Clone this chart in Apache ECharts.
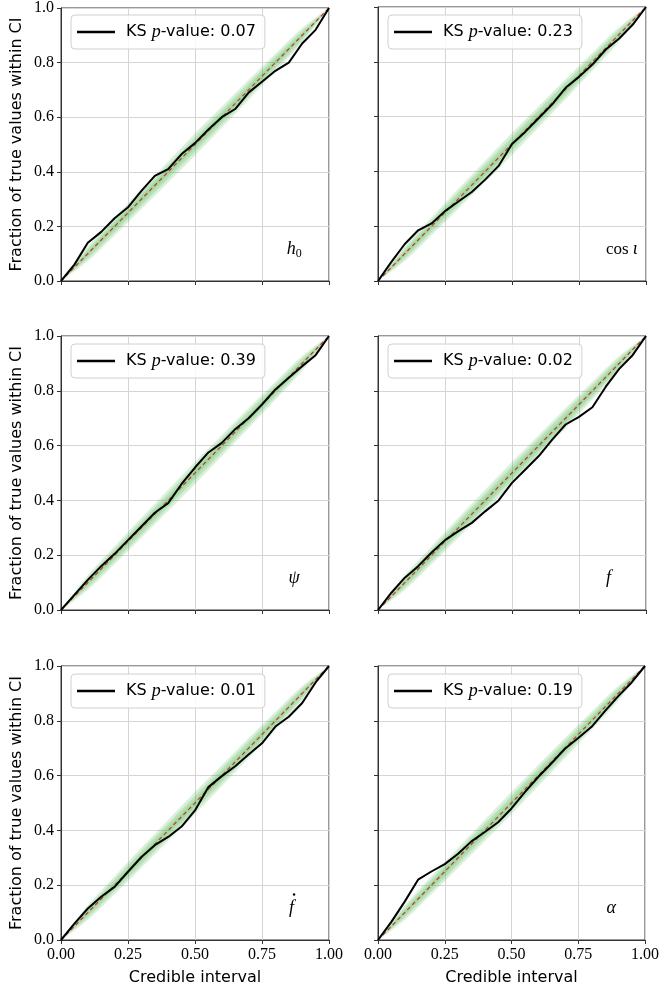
<!DOCTYPE html>
<html>
<head>
<meta charset="utf-8">
<script src="https://cdn.jsdelivr.net/npm/echarts@6/dist/echarts.min.js"></script>
<style>
  html, body { margin: 0; padding: 0; background: #fff; }
  #chart { width: 662px; height: 988px; }
</style>
</head>
<body>
<div id="chart"></div>
<script>
// Credible-interval grid shared by all six P–P curves
const credible = [0, 0.05, 0.10, 0.15, 0.20, 0.25, 0.30, 0.35, 0.40, 0.45, 0.50,
                  0.55, 0.60, 0.65, 0.70, 0.75, 0.80, 0.85, 0.90, 0.95, 1.00];

// Fraction of true values within each credible interval, per parameter
const fracH0    = [0, 0.060, 0.140, 0.180, 0.230, 0.270, 0.330, 0.385, 0.410, 0.465, 0.505,
                   0.555, 0.600, 0.630, 0.690, 0.730, 0.770, 0.800, 0.870, 0.920, 1.000];
const fracCosI  = [0, 0.070, 0.135, 0.185, 0.210, 0.255, 0.290, 0.325, 0.370, 0.420, 0.500,
                   0.545, 0.595, 0.645, 0.705, 0.745, 0.790, 0.845, 0.885, 0.935, 1.000];
const fracPsi   = [0, 0.055, 0.110, 0.160, 0.205, 0.255, 0.305, 0.355, 0.390, 0.460, 0.520,
                   0.575, 0.610, 0.660, 0.700, 0.750, 0.805, 0.848, 0.890, 0.930, 1.000];
const fracF     = [0, 0.063, 0.118, 0.160, 0.210, 0.255, 0.288, 0.318, 0.360, 0.400, 0.464,
                   0.513, 0.562, 0.622, 0.677, 0.705, 0.740, 0.815, 0.880, 0.930, 1.000];
const fracFdot  = [0, 0.060, 0.115, 0.158, 0.194, 0.249, 0.303, 0.346, 0.376, 0.414, 0.473,
                   0.558, 0.598, 0.634, 0.677, 0.718, 0.779, 0.815, 0.865, 0.940, 1.000];
const fracAlpha = [0, 0.066, 0.140, 0.220, 0.250, 0.277, 0.315, 0.360, 0.394, 0.430, 0.480,
                   0.540, 0.595, 0.645, 0.698, 0.737, 0.778, 0.835, 0.890, 0.940, 1.000];

// Kolmogorov–Smirnov p-values shown in the legends
const ksPValues = [0.07, 0.23, 0.39, 0.02, 0.01, 0.19];

// Parameter symbols (rich-text markup); the time derivative gets an overdot
const paramLabels = ['{i|h}{s|0}', '{r|cos }{i|ι}', '{i|ψ}', '{i|f}', '{i|f}', '{i|α}'];
const paramDotted = [false, false, false, false, true, false];

// Expected spread of P–P curves around the diagonal (half-widths of nested bands)
const bandX     = [0, 0.1, 0.2, 0.3, 0.4, 0.5, 0.6, 0.7, 0.8, 0.9, 1.0];
const bandOuter = [0, 0.026, 0.032, 0.036, 0.038, 0.040, 0.038, 0.036, 0.032, 0.026, 0];
const bandMid   = [0, 0.017, 0.021, 0.024, 0.025, 0.026, 0.025, 0.024, 0.021, 0.017, 0];
const bandInner = [0, 0.008, 0.010, 0.012, 0.013, 0.013, 0.013, 0.012, 0.010, 0.008, 0];

// Reference line y = x
const diagonal = [0, 1];

const xTicks = [0, 0.25, 0.5, 0.75, 1];
const yTicks = [0, 0.2, 0.4, 0.6, 0.8, 1];

const curves = [fracH0, fracCosI, fracPsi, fracF, fracFdot, fracAlpha];
const bands = [bandOuter, bandMid, bandInner];

// Layout of the 3x2 panel grid (pixels)
const colLeft = [61, 378];
const rowTop = [7, 336, 666];
const panelW = 268, panelH = 274;
const labelPos = [0.87, 0.91, 0.87, 0.86, 0.86, 0.87];

const sans = 'DejaVu Sans';
const serif = 'Liberation Serif';

const grids = [], xAxes = [], yAxes = [], series = [], legends = [], graphics = [];

curves.forEach((vals, k) => {
  const r = Math.floor(k / 2), c = k % 2;
  const left = colLeft[c], top = rowTop[r];
  grids.push({ left: left, top: top, width: panelW, height: panelH, show: true,
               borderColor: '#333', borderWidth: 1, backgroundColor: '#fff' });

  const bottomRow = r === 2, leftCol = c === 0;
  xAxes.push({
    gridIndex: k, type: 'value', min: xTicks[0], max: xTicks[xTicks.length - 1],
    interval: xTicks[1] - xTicks[0],
    axisLine: { show: true, onZero: false, lineStyle: { color: '#333', width: 1 } },
    axisTick: { show: true, length: 4, lineStyle: { color: '#333' } },
    axisLabel: { show: bottomRow, formatter: v => v.toFixed(2), color: '#000',
                 fontFamily: serif, fontSize: 16, margin: 7 },
    splitLine: { show: true, lineStyle: { color: '#d5d5d5', width: 1 } },
    name: bottomRow ? 'Credible interval' : '', nameLocation: 'middle', nameGap: 30,
    nameTextStyle: { fontFamily: sans, fontSize: 16, color: '#000' }
  });
  yAxes.push({
    gridIndex: k, type: 'value', min: yTicks[0], max: yTicks[yTicks.length - 1],
    interval: yTicks[1] - yTicks[0],
    axisLine: { show: true, onZero: false, lineStyle: { color: '#333', width: 1 } },
    axisTick: { show: true, length: 4, lineStyle: { color: '#333' } },
    axisLabel: { show: leftCol, formatter: v => v.toFixed(1), color: '#000',
                 fontFamily: serif, fontSize: 16, margin: 7 },
    splitLine: { show: true, lineStyle: { color: '#d5d5d5', width: 1 } },
    name: leftCol ? 'Fraction of true values within CI' : '', nameLocation: 'middle', nameGap: 36,
    nameTextStyle: { fontFamily: sans, fontSize: 16, color: '#000' }
  });

  // soft green spread band, darkest along the diagonal
  series.push({
    type: 'custom', xAxisIndex: k, yAxisIndex: k, silent: true, clip: true, z: 1,
    data: bands.map((b, i) => [i]),
    renderItem: (params, api) => {
      const w = bands[api.value(0)];
      const upper = bandX.map((x, i) => api.coord([x, Math.min(1, x + w[i])]));
      const lower = bandX.map((x, i) => api.coord([x, Math.max(0, x - w[i])])).reverse();
      return {
        type: 'polygon',
        shape: { points: upper.concat(lower), smooth: 0.3 },
        style: { fill: 'rgba(70,175,70,0.17)', shadowBlur: 4, shadowColor: 'rgba(70,175,70,0.25)' }
      };
    }
  });

  // red dashed y = x reference
  series.push({
    type: 'line', xAxisIndex: k, yAxisIndex: k, silent: true, z: 3,
    data: diagonal.map(v => [v, v]), symbol: 'none',
    lineStyle: { color: '#c0392b', width: 1.2, type: [4, 3] }
  });

  // observed P–P curve
  const name = 'KS p-value: ' + ksPValues[k].toFixed(2);
  series.push({
    name: name, type: 'line', xAxisIndex: k, yAxisIndex: k, z: 4,
    data: credible.map((x, j) => [x, vals[j]]), symbol: 'none',
    lineStyle: { color: '#000', width: 2 }, itemStyle: { color: '#000' }
  });

  legends.push({
    data: [{ name: name, icon: 'rect' }], left: left + 10, top: top + 8, orient: 'horizontal',
    itemWidth: 38, itemHeight: 2.4, selectedMode: false,
    backgroundColor: 'rgba(255,255,255,0.85)', borderColor: '#d0d0d0', borderWidth: 1,
    borderRadius: 4, padding: [8, 9, 8, 6],
    formatter: n => n.replace('KS p-value', 'KS {i|p}-value'),
    textStyle: { fontFamily: sans, fontSize: 16, color: '#000', padding: [0, 0, 0, 6],
      rich: { i: { fontFamily: serif, fontStyle: 'italic', fontSize: 18, color: '#000' } } }
  });

  // parameter symbol in the lower-right corner of each panel
  const lx = left + panelW * labelPos[k], ly = top + panelH * (1 - 0.115);
  const children = [{
    type: 'text', x: 0, y: 0,
    style: {
      text: paramLabels[k], align: 'center', verticalAlign: 'middle',
      fontFamily: serif, fontSize: 17, fill: '#000',
      rich: {
        i: { fontFamily: serif, fontStyle: 'italic', fontSize: 18 },
        s: { fontFamily: serif, fontSize: 12, verticalAlign: 'bottom', padding: [8, 0, 0, 0] },
        r: { fontFamily: serif, fontSize: 17 }
      }
    }
  }];
  if (paramDotted[k]) {
    children.push({ type: 'circle', shape: { cx: 2.6, cy: -14, r: 1.2 }, style: { fill: '#000' } });
  }
  graphics.push({ type: 'group', x: lx, y: ly, silent: true, children: children });
});

const chart = echarts.init(document.getElementById('chart'), null, { renderer: 'canvas' });
chart.setOption({
  animation: false,
  backgroundColor: '#fff',
  grid: grids,
  xAxis: xAxes,
  yAxis: yAxes,
  legend: legends,
  series: series,
  graphic: graphics
});
</script>
</body>
</html>
